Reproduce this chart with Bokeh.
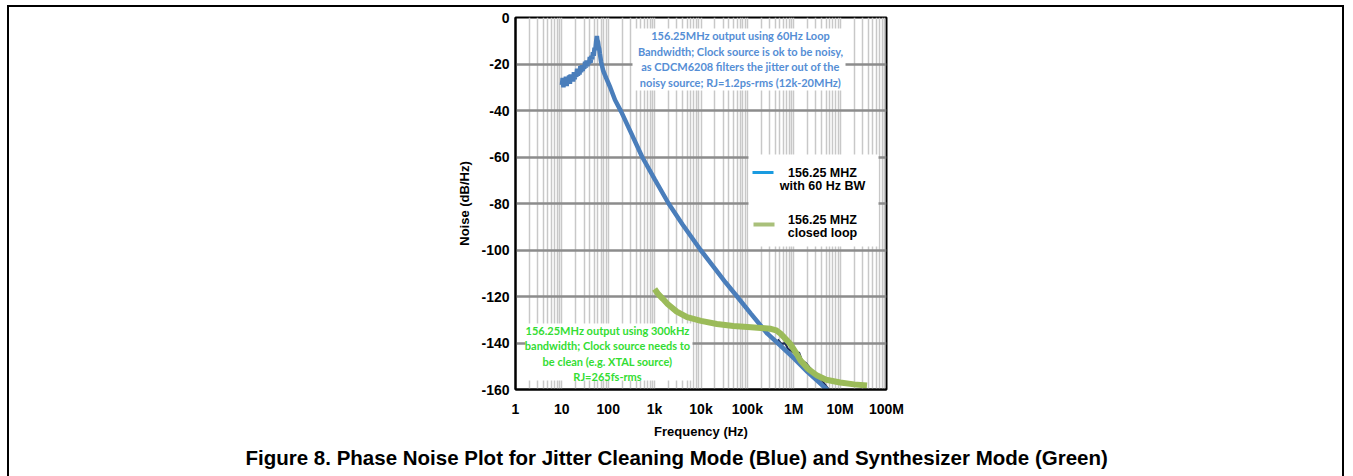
from bokeh.plotting import figure
from bokeh.models import FixedTicker, Label, Title
from bokeh.embed import file_html
from bokeh.resources import INLINE

# ---------------- data ----------------
x_ticks = [1, 10, 100, 1e3, 1e4, 1e5, 1e6, 1e7, 1e8]
x_tick_labels = ["1", "10", "100", "1k", "10k", "100k", "1M", "10M", "100M"]
y_ticks = [0, -20, -40, -60, -80, -100, -120, -140, -160]
y_tick_labels = ["0", "-20", "-40", "-60", "-80", "-100", "-120", "-140", "-160"]

blue_freq = [10, 10.4, 10.8, 11.2, 11.7, 12.2, 12.7, 13.2, 13.7, 14.3, 14.9, 15.5, 16.1, 16.8,
             17.5, 18.2, 18.9, 19.7, 20.5, 21.3, 22.2, 23.1, 24, 25, 26, 27, 28.1, 29.2, 30.4,
             31.6, 32.9, 34.2, 35.6, 37, 38.5, 40, 41.6, 43.3, 45, 46.8, 48.7, 50.6, 52.6,
             54.7, 56.9, 58, 60, 62, 64, 66, 70, 78, 90, 110, 140, 190, 300, 540, 1000, 2000,
             4000, 9800, 2e4, 3.4e4, 6e4, 1.2e5, 2.7e5, 4.5e5, 1e6, 2e6, 5.2e6, 6.5e6]
blue_db = [-29, -26, -30, -27, -28.5, -25.5, -29.5, -26, -28, -25, -28.5, -24.5, -27, -25,
           -27.5, -23.5, -26.5, -24, -25.5, -22, -25, -22.5, -24.5, -21, -23.5, -20.5, -23,
           -21, -22, -19, -21.5, -18.5, -21, -18.5, -20, -17, -19.5, -16.5, -18, -15, -16.5,
           -13, -14, -10.5, -8, -9.5, -10.5, -12.5, -13.5, -15.5, -19, -23, -26, -30, -35.5,
           -40.5, -49, -60, -69.5, -80, -89, -100, -108, -114, -120, -127.5, -136, -140,
           -146.5, -152.5, -160, -162]

green_freq = [1000, 1200, 1500, 1900, 3000, 5000, 1e4, 2.2e4, 5e4, 1.2e5, 3.2e5, 4.2e5, 5.2e5,
              6.5e5, 8.5e5, 1.1e6, 1.4e6, 2e6, 3.2e6, 5e6, 1e7, 2e7, 3.8e7]
green_db = [-116.8, -119, -121, -123.2, -126.5, -128.9, -130.5, -131.8, -132.7, -133.2, -133.9,
            -134.6, -136, -138, -140.5, -144, -147.5, -151, -154, -155.8, -157, -157.8, -158.3]

dark_freq = [4.5e5, 5.5e5, 6.5e5, 7.5e5, 9e5, 1.1e6, 1.3e6, 1.5e6, 1.8e6, 2.2e6, 2.7e6, 3.3e6,
             4e6, 5e6, 6e6]
dark_db = [-138.5, -140.5, -140, -142.5, -143.5, -145, -144, -147.5, -148.5, -150.5, -152.5,
           -154.5, -156, -158.5, -160.5]

series_labels = [["156.25 MHZ", "with 60 Hz BW"], ["156.25 MHZ", "closed loop"]]

note_blue = ["156.25MHz output using 60Hz Loop",
             "Bandwidth; Clock source is ok to be noisy,",
             "as CDCM6208 filters the jitter out of the",
             "noisy source; RJ=1.2ps-rms (12k-20MHz)"]
note_green = ["156.25MHz output using 300kHz",
              "bandwidth; Clock source needs to",
              "be clean (e.g. XTAL source)",
              "RJ=265fs-rms"]
caption = "Figure 8.  Phase Noise Plot for Jitter Cleaning Mode (Blue) and Synthesizer Mode (Green)"

# ---------------- layout helpers (page pixel -> data) ----------------
FL, FT, FW, FH = 515, 17, 371, 372


def fx(px):
    return 10 ** ((px - FL) / FW * 8)


def fy(py):
    return -(py - FT) / FH * 160


p = figure(x_axis_type="log", x_range=(1, 1e8), y_range=(-160, 0),
           frame_width=FW, frame_height=FH,
           min_border_left=506, min_border_right=456, min_border_top=10, min_border_bottom=87,
           output_backend="svg", toolbar_location=None)
p.margin = (5, 0, 0, 7)
p.styles = {"border-top": "2px solid black", "border-left": "2px solid black",
            "border-right": "2px solid black"}
p.border_fill_color = None
p.background_fill_color = "white"
p.outline_line_color = "black"
p.outline_line_width = 2

FONT = "Liberation Sans"

# axes
p.xaxis.ticker = FixedTicker(ticks=x_ticks,
                             minor_ticks=[m * 10 ** d for d in range(8) for m in range(2, 10)])
p.xaxis.major_label_overrides = {t: l for t, l in zip(x_ticks, x_tick_labels)}
p.yaxis.ticker = FixedTicker(ticks=y_ticks)
p.yaxis.major_label_overrides = {t: l for t, l in zip(y_ticks, y_tick_labels)}
for ax in (p.xaxis, p.yaxis):
    ax.major_tick_out = 0
    ax.major_tick_in = 0
    ax.minor_tick_out = 0
    ax.minor_tick_in = 0
    ax.axis_line_width = 2
    ax.axis_line_color = "black"
    ax.major_label_text_font = FONT
    ax.major_label_text_font_style = "bold"
    ax.major_label_text_font_size = "14px"
    ax.major_label_text_color = "black"
    ax.axis_label_text_font = FONT
    ax.axis_label_text_font_style = "bold"
    ax.axis_label_text_font_size = "13px"
    ax.axis_label_text_color = "black"
p.xaxis.axis_label = "Frequency (Hz)"
p.yaxis.axis_label = "Noise (dB/Hz)"
p.xaxis.major_label_standoff = 11
p.yaxis.major_label_standoff = 6
p.xaxis.axis_label_standoff = 4
p.yaxis.axis_label_standoff = 6

# grids
p.xgrid.grid_line_color = "#c8c8c8"
p.xgrid.grid_line_width = 1.5
p.xgrid.minor_grid_line_color = "#c8c8c8"
p.xgrid.minor_grid_line_width = 1.5
p.ygrid.grid_line_color = "#8c8c8c"
p.ygrid.grid_line_width = 2.5

# white boxes behind notes / legend
p.quad(left=[fx(632), fx(525), fx(748)], right=[fx(845), fx(692), fx(878)],
       top=[fy(28), fy(323), fy(154)], bottom=[fy(90), fy(380), fy(246)],
       fill_color="white", line_color=None)

# series
p.line(dark_freq, dark_db, line_color="#1c2a55", line_width=2)
p.line(blue_freq, blue_db, line_color="#4a7ebb", line_width=4.5)
p.line(green_freq, green_db, line_color="#9bbb59", line_width=6)

# legend (manual)
p.segment(x0=[fx(752), fx(753)], y0=[fy(172), fy(224)], x1=[fx(773), fx(774)],
          y1=[fy(172), fy(224)], line_color=["#1a9be0", "#a9c07a"], line_width=[3, 4])
for lab, py in zip(series_labels, [179, 226]):
    p.add_layout(Label(x=fx(822), y=fy(py), text="\n".join(lab), text_align="center",
                       text_baseline="middle", text_font=FONT, text_font_style="bold",
                       text_font_size="12.5px", text_line_height=0.95, text_color="black"))

# notes
p.add_layout(Label(x=fx(740), y=fy(58.5), text="\n".join(note_blue), text_align="center",
                   text_baseline="middle", text_font="Lato", text_font_style="bold",
                   text_font_size="11px", text_line_height=1.2, text_color="#558ed5"))
p.add_layout(Label(x=fx(607), y=fy(353), text="\n".join(note_green), text_align="center",
                   text_baseline="middle", text_font="Lato", text_font_style="bold",
                   text_font_size="11px", text_line_height=1.2, text_color="#33dd33"))

# caption
p.add_layout(Title(text=caption, align="left", offset=-270, text_font=FONT,
                   text_font_style="bold", text_font_size="20.5px", text_color="black",
                   standoff=4), "below")

open("out.html", "w").write(file_html(p, INLINE))
